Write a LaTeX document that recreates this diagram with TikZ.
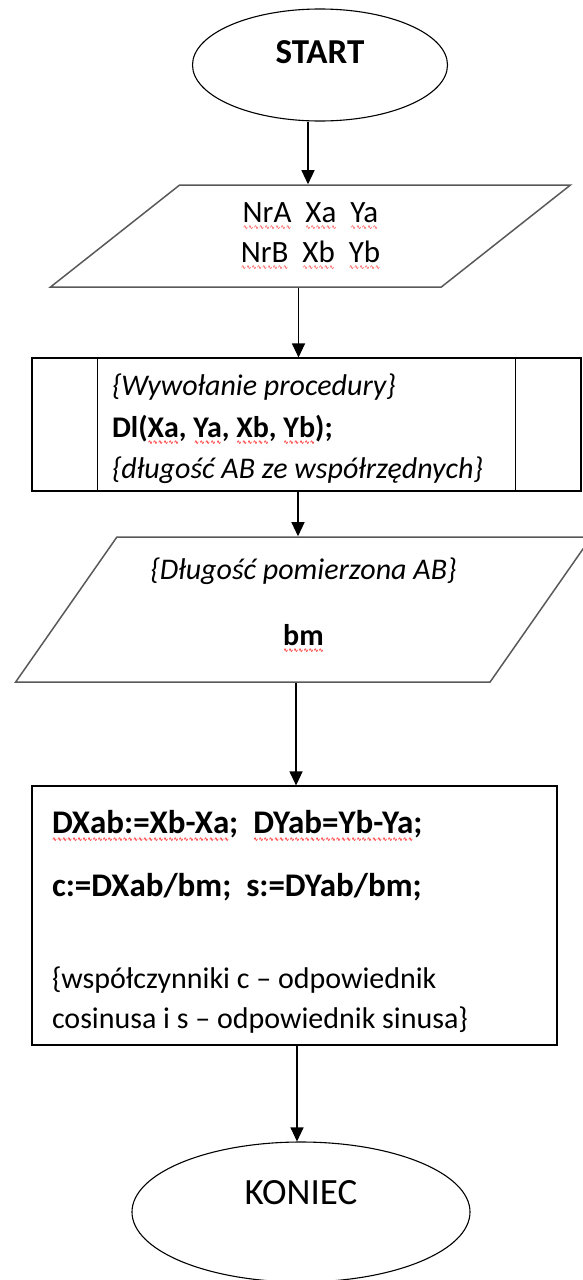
\documentclass[tikz,border=0pt]{standalone}
\usepackage{fontspec}
\setmainfont{Carlito}
\newfontfamily\wavefont{DejaVu Sans}
\usetikzlibrary{arrows.meta,positioning,shapes.geometric}
\newsavebox\squigbox
\newcommand\squig[1]{\sbox\squigbox{#1}%
  \rlap{\lower7.5pt\hbox to\wd\squigbox{\color{red}\wavefont\fontsize{6}{6}\selectfont
    \xleaders\hbox{\char"223F}\hfil}}\usebox\squigbox}

\begin{document}
\begin{tikzpicture}[x=1pt, y=-1pt,
  font=\fontsize{30}{40}\selectfont,
  term/.style={draw, ellipse, line width=1.1pt, inner sep=0pt},
  iobox/.style={draw=black!65, line width=1.5pt, trapezium, trapezium stretches=true,
    inner sep=0pt, align=flush center},
  procbox/.style={draw, rectangle, line width=1.1pt, inner xsep=80pt, text width=389pt,
    minimum height=133pt, align=flush left, font=\fontsize{30}{41.5}\selectfont},
  calcbox/.style={draw, rectangle, line width=1.1pt, inner xsep=20pt, text width=485pt,
    minimum height=259pt, align=flush left},
  arr/.style={-{Triangle[length=14pt,width=13pt]}, line width=1.1pt},
]
\useasboundingbox (0,0) rectangle (582,1280);
\node[term, minimum width=255pt, minimum height=112pt, text height=22pt, text depth=26pt,
  font=\fontsize{35}{40}\selectfont\bfseries] (start) at (320,65) {START};
\node[iobox, trapezium left angle=44.4, trapezium right angle=135.6,
  minimum width=521pt, minimum height=102pt, font=\fontsize{31}{40}\selectfont] (in1) at (310.5,236)
  {\squig{NrA}\ \ \squig{Xa}\ \ \squig{Ya}\\\squig{NrB}\ \ \squig{Xb}\ \ \squig{Yb}};
\node[procbox] (proc) at (306.5,424.5)
  {\rule{0pt}{31pt}\textit{\{Wywołanie procedury\}}\\
   \textbf{Dl(\squig{Xa}, \squig{Ya}, \squig{Xb}, \squig{Yb});}\\
   \textit{\{długość AB ze współrzędnych\}}};
\draw[line width=1.1pt] ([xshift=66pt]proc.north west) -- ([xshift=66pt]proc.south west);
\draw[line width=1.1pt] ([xshift=-66pt]proc.north east) -- ([xshift=-66pt]proc.south east);
\node[iobox, trapezium left angle=51.3, trapezium right angle=128.7,
  minimum width=579pt, minimum height=145pt, text depth=16pt] (in2) at (303.5,609.5)
  {\textit{\{Długość pomierzona AB\}}\\[26pt]\textbf{\squig{bm}}};
\node[calcbox] (calc) at (294.5,915.5)
  {\rule{0pt}{36pt}{\fontsize{33}{40}\selectfont\bfseries \squig{DXab:=Xb-Xa};\ \ \squig{DYab=Yb-Ya};}\\[23pt]
   {\fontsize{33}{40}\selectfont\bfseries c:=DXab/bm;\ \ s:=DYab/bm;}\\[52pt]
   \{współczynniki c – odpowiednik\\
   cosinusa i s – odpowiednik sinusa\}};
\node[term, minimum width=338pt, minimum height=140pt, text height=23pt, text depth=39pt,
  font=\fontsize{37}{44}\selectfont] (stop) at (301,1212) {KONIEC};
% strzalki
\draw[arr] ([xshift=-12pt]start.south) -- ([xshift=-12pt]start.south |- in1.north);
\draw[arr] ([xshift=-12pt]in1.south) -- ([xshift=-12pt]in1.south |- proc.north);
\draw[arr] ([xshift=-8.5pt]proc.south) -- ([xshift=-8.5pt]proc.south |- in2.north);
\draw[arr] ([xshift=-7.5pt]in2.south) -- ([xshift=-7.5pt]in2.south |- calc.north);
\draw[arr] ([xshift=2.5pt]calc.south) -- ([xshift=2.5pt]calc.south |- stop.north);
\end{tikzpicture}
\end{document}
